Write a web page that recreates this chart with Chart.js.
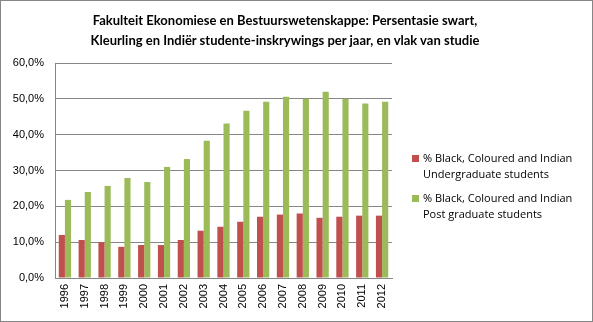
<!DOCTYPE html>
<html>
<head>
<meta charset="utf-8">
<script src="https://cdn.jsdelivr.net/npm/chart.js@4"></script>
<style>
  body { margin: 0; }
  #box { position: relative; width: 593px; height: 322px; box-sizing: border-box; border: 1px solid #868686; background: #fff; }
  #chart { position: absolute; left: 0; top: 0; }
  #title { position: absolute; left: 0; width: 568px; top: 9px; text-align: center; font: bold 13px Lato, sans-serif; line-height: 20px; color: #000; }
  #legend { position: absolute; left: 411px; top: 149px; font: 11px "Open Sans", sans-serif; color: #000; }
  .item { position: relative; padding-left: 11px; line-height: 16px; margin-bottom: 8px; }
  .sw { position: absolute; left: 0; top: 5px; width: 7px; height: 7px; }
</style>
</head>
<body>
<div id="box">
  <canvas id="chart" width="593" height="322"></canvas>
  <div id="title">Fakulteit Ekonomiese en Bestuurswetenskappe: Persentasie swart,<br>Kleurling en Indiër studente-inskrywings per jaar, en vlak van studie</div>
  <div id="legend"></div>
</div>
<script>
var years = ["1996","1997","1998","1999","2000","2001","2002","2003","2004","2005","2006","2007","2008","2009","2010","2011","2012"];
var undergrad = [12.0, 10.6, 10.0, 8.7, 9.2, 9.2, 10.6, 13.2, 14.3, 15.7, 17.1, 17.7, 18.0, 16.8, 17.1, 17.4, 17.4];
var postgrad = [21.8, 24.0, 25.7, 27.9, 26.8, 31.0, 33.2, 38.3, 43.1, 46.7, 49.2, 50.6, 50.0, 52.0, 50.0, 48.7, 49.2];
var seriesNames = [
  ["% Black, Coloured and Indian", "Undergraduate students"],
  ["% Black, Coloured and Indian", "Post graduate students"]
];
var colors = ["#C0504D", "#9BBB59"];

const ctx = document.getElementById("chart");
const chart = new Chart(ctx, {
  type: "bar",
  data: {
    labels: years,
    datasets: [
      { label: seriesNames[0].join(" "), data: undergrad, backgroundColor: colors[0] },
      { label: seriesNames[1].join(" "), data: postgrad, backgroundColor: colors[1] }
    ]
  },
  options: {
    responsive: false,
    animation: false,
    layout: { padding: { top: 62, right: 202, bottom: 0, left: 0 } },
    datasets: { bar: { categoryPercentage: 0.62, barPercentage: 1.0 } },
    plugins: { legend: { display: false }, title: { display: false }, tooltip: { enabled: false } },
    scales: {
      x: {
        grid: { display: false, drawTicks: false },
        border: { color: "#868686" },
        ticks: { minRotation: 90, maxRotation: 90, padding: 6, color: "#000", font: { family: "Liberation Sans", size: 11 } },
        afterFit: s => { s.height = 45; }
      },
      y: {
        min: 0, max: 60,
        grid: { color: "#868686", drawTicks: false },
        border: { color: "#868686" },
        ticks: {
          stepSize: 10, padding: 11, color: "#000",
          font: { family: "Liberation Sans", size: 11 },
          callback: v => v.toFixed(1).replace(".", ",") + "%"
        },
        afterFit: s => { s.width = 54; }
      }
    }
  }
});

var leg = document.getElementById("legend");
seriesNames.forEach(function(n, i) {
  var d = document.createElement("div");
  d.className = "item";
  d.innerHTML = '<span class="sw" style="background:' + colors[i] + '"></span>' + n[0] + "<br>" + n[1];
  leg.appendChild(d);
});
</script>
</body>
</html>
